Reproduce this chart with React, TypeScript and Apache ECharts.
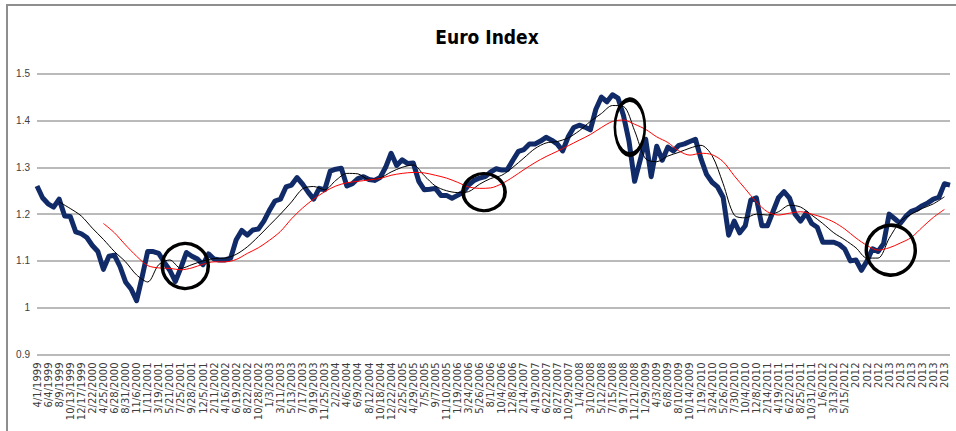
import React, { useEffect, useRef } from "react";
import * as echarts from "echarts";

// Tick labels of the category slots (one label every slot)
const tickLabels: string[] = [
  "4/1/1999","6/4/1999","8/9/1999","10/13/1999","12/17/1999","2/22/2000","4/25/2000","6/28/2000","8/31/2000","11/6/2000",
  "1/11/2001","3/19/2001","5/21/2001","7/25/2001","9/28/2001","12/5/2001","2/11/2002","4/16/2002","6/19/2002","8/22/2002",
  "10/28/2002","1/3/2003","3/11/2003","5/13/2003","7/17/2003","9/19/2003","11/25/2003","2/2/2004","4/6/2004","6/9/2004",
  "8/12/2004","10/18/2004","12/22/2004","2/25/2005","4/29/2005","7/5/2005","9/7/2005","11/10/2005","1/19/2006","3/24/2006",
  "5/26/2006","8/1/2006","10/4/2006","12/8/2006","2/14/2007","4/19/2007","6/22/2007","8/27/2007","10/29/2007","1/4/2008",
  "3/10/2008","5/12/2008","7/15/2008","9/17/2008","11/21/2008","1/29/2009","4/3/2009","6/8/2009","8/10/2009","10/14/2009",
  "1/19/2010","3/24/2010","5/26/2010","7/30/2010","10/4/2010","12/8/2010","2/14/2011","4/19/2011","6/22/2011","8/25/2011",
  "10/31/2011","1/6/2012","3/13/2012","5/15/2012","2012","2012","2012","2013","2013","2013",
  "2013","2013","2013"
];

// Daily index, sampled every half label slot
const euroIndex: number[] = [
  1.26, 1.235, 1.222, 1.215, 1.232, 1.196, 1.195, 1.162, 1.158, 1.15,
  1.133, 1.12, 1.082, 1.11, 1.112, 1.088, 1.055, 1.04, 1.015, 1.066,
  1.12, 1.12, 1.116, 1.097, 1.08, 1.056, 1.085, 1.118, 1.11, 1.104,
  1.092, 1.115, 1.104, 1.102, 1.102, 1.106, 1.145, 1.165, 1.155, 1.166,
  1.168, 1.185, 1.208, 1.228, 1.232, 1.258, 1.262, 1.278, 1.264, 1.247,
  1.232, 1.255, 1.252, 1.292, 1.296, 1.298, 1.26, 1.265, 1.276, 1.28,
  1.274, 1.272, 1.278, 1.3, 1.33, 1.304, 1.316, 1.308, 1.309, 1.27,
  1.252, 1.253, 1.255, 1.24, 1.24, 1.234, 1.24, 1.247, 1.262, 1.272,
  1.277, 1.28, 1.29, 1.297, 1.294, 1.295, 1.315, 1.334, 1.338, 1.35,
  1.35, 1.356, 1.364, 1.358, 1.35, 1.335, 1.365, 1.385, 1.39, 1.386,
  1.38, 1.424, 1.45, 1.44, 1.455, 1.448, 1.41, 1.355, 1.27, 1.315,
  1.36, 1.28, 1.345, 1.315, 1.343, 1.335, 1.347, 1.35, 1.355, 1.36,
  1.318, 1.285, 1.268, 1.258, 1.236, 1.155, 1.185, 1.16, 1.175, 1.23,
  1.235, 1.175, 1.175, 1.205, 1.235, 1.248, 1.234, 1.2, 1.185, 1.202,
  1.18, 1.172, 1.14, 1.14, 1.14, 1.135, 1.125, 1.1, 1.102, 1.08,
  1.1, 1.126, 1.12, 1.137, 1.2, 1.19, 1.18, 1.195, 1.206, 1.21,
  1.218, 1.224, 1.232, 1.236, 1.265, 1.262
];

// Short moving average (black), one value per label slot
const shortAverage: (number | null)[] = [
  null, null, 1.226, 1.212, 1.196, 1.17, 1.146, 1.12, 1.098, 1.07,
  1.055, 1.092, 1.102, 1.084, 1.092, 1.1, 1.105, 1.106, 1.114, 1.13,
  1.152, 1.176, 1.2, 1.226, 1.254, 1.259, 1.252, 1.272, 1.287, 1.286,
  1.274, 1.277, 1.29, 1.3, 1.305, 1.282, 1.26, 1.25, 1.246, 1.248,
  1.264, 1.276, 1.283, 1.3, 1.32, 1.34, 1.352, 1.355, 1.363, 1.378,
  1.398, 1.415, 1.432, 1.43, 1.378, 1.318, 1.312, 1.324, 1.332, 1.341,
  1.347, 1.325, 1.265, 1.198, 1.192, 1.2, 1.198, 1.205, 1.219, 1.215,
  1.198, 1.18, 1.16, 1.145, 1.128, 1.106, 1.106, 1.148, 1.184, 1.2,
  1.212, 1.222, 1.237
];

// Long moving average (red), one value per label slot
const longAverage: (number | null)[] = [
  null, null, null, null, null, null, 1.18, 1.16, 1.134, 1.11,
  1.09, 1.085, 1.084, 1.081, 1.085, 1.093, 1.098, 1.098, 1.103, 1.116,
  1.128, 1.144, 1.163, 1.19, 1.213, 1.232, 1.248, 1.26, 1.267, 1.27,
  1.273, 1.276, 1.283, 1.287, 1.289, 1.288, 1.283, 1.277, 1.268, 1.258,
  1.255, 1.256, 1.265, 1.279, 1.295, 1.31, 1.323, 1.334, 1.346, 1.358,
  1.37, 1.385, 1.398, 1.401, 1.392, 1.381, 1.365, 1.353, 1.335, 1.326,
  1.33, 1.327, 1.312, 1.282, 1.254, 1.226, 1.205, 1.198, 1.202, 1.205,
  1.2, 1.193, 1.183, 1.168, 1.149, 1.133, 1.123, 1.128, 1.138, 1.15,
  1.172, 1.193, 1.21
];

// Highlight circles: [slot, value]
const circleCentres: [number, number][] = [
  [13.4, 1.089],
  [40.4, 1.247],
  [53.57, 1.386],
  [77.15, 1.123],
];

const yTicks = [0.9, 1.0, 1.1, 1.2, 1.3, 1.4, 1.5];

export default function App() {
  const ref = useRef<HTMLDivElement>(null);

  useEffect(() => {
    if (!ref.current) return;
    const chart = echarts.init(ref.current, null, { renderer: "svg" });

    const circleSizes = [
      [46, 45],
      [42, 37],
      [30, 55],
      [49, 50],
    ];

    const xMax = (euroIndex.length - 1) / 2;

    chart.setOption({
      animation: false,
      backgroundColor: "#ffffff",
      graphic: [
        {
          type: "rect",
          shape: { x: 7, y: 5, width: 990, height: 460 },
          style: { fill: "none", stroke: "#8e8e8e", lineWidth: 2 },
          silent: true,
          z: 0,
        },
        {
          type: "text",
          style: {
            text: "Euro Index",
            x: 487,
            y: 37,
            textAlign: "center",
            textVerticalAlign: "middle",
            font: "bold 19px 'Liberation Sans Narrow', 'DejaVu Sans Condensed', 'Liberation Sans', sans-serif",
            fill: "#000000",
          },
          z: 10,
        },
      ],
      grid: {
        left: 37,
        right: 6,
        top: 73.7,
        bottom: 76.5,
        containLabel: false,
      },
      xAxis: {
        type: "value",
        min: 0,
        max: xMax,
        interval: 1,
        axisLine: { show: false },
        axisTick: { show: false },
        splitLine: { show: false },
        axisLabel: {
          rotate: 90,
          margin: 8,
          fontSize: 10,
          fontFamily: "'DejaVu Sans', sans-serif",
          color: "#3c3c3c",
          showMinLabel: true,
          showMaxLabel: true,
          formatter: (v: number) => {
            const r = Math.round(v);
            if (Math.abs(v - r) > 1e-6) return "";
            return tickLabels[r] ?? "";
          },
        },
      },
      yAxis: {
        type: "value",
        min: yTicks[0],
        max: yTicks[yTicks.length - 1],
        interval: 0.1,
        axisLine: { show: false },
        axisTick: { show: false },
        splitLine: { show: true, lineStyle: { color: "#a3a3a3", width: 1.5 } },
        axisLabel: {
          margin: 7,
          fontSize: 10,
          fontFamily: "'Liberation Sans Narrow', 'Liberation Sans', sans-serif",
          color: "#404040",
          formatter: (v: number) => String(Math.round(v * 10) / 10),
        },
      },
      series: [
        {
          name: "Euro Index",
          type: "line",
          data: euroIndex.map((v, i) => [i / 2, v]),
          showSymbol: false,
          lineStyle: { color: "#112b68", width: 5, join: "round", opacity: 1 },
          z: 2,
        },
        {
          name: "Short MA",
          type: "line",
          data: shortAverage
            .map((v, i) => (v === null ? null : [i, v]))
            .filter((d) => d !== null),
          showSymbol: false,
          smooth: 0.3,
          lineStyle: { color: "#000000", width: 1 },
          z: 3,
        },
        {
          name: "Long MA",
          type: "line",
          data: longAverage
            .map((v, i) => (v === null ? null : [i, v]))
            .filter((d) => d !== null),
          showSymbol: false,
          smooth: 0.3,
          lineStyle: { color: "#ff0000", width: 1 },
          z: 4,
        },
        {
          name: "Highlights",
          type: "scatter",
          data: circleCentres.map((c, i) => ({
            value: c,
            symbolSize: circleSizes[i],
          })),
          symbol: "circle",
          itemStyle: {
            color: "rgba(0,0,0,0)",
            borderColor: "#000000",
            borderWidth: 3.5,
            opacity: 1,
          },
          silent: true,
          z: 5,
        },
      ],
    });

    return () => {
      chart.dispose();
    };
  }, []);

  return (
    <div
      ref={ref}
      style={{ position: "fixed", left: 0, top: 0, width: 956, height: 431 }}
    />
  );
}
